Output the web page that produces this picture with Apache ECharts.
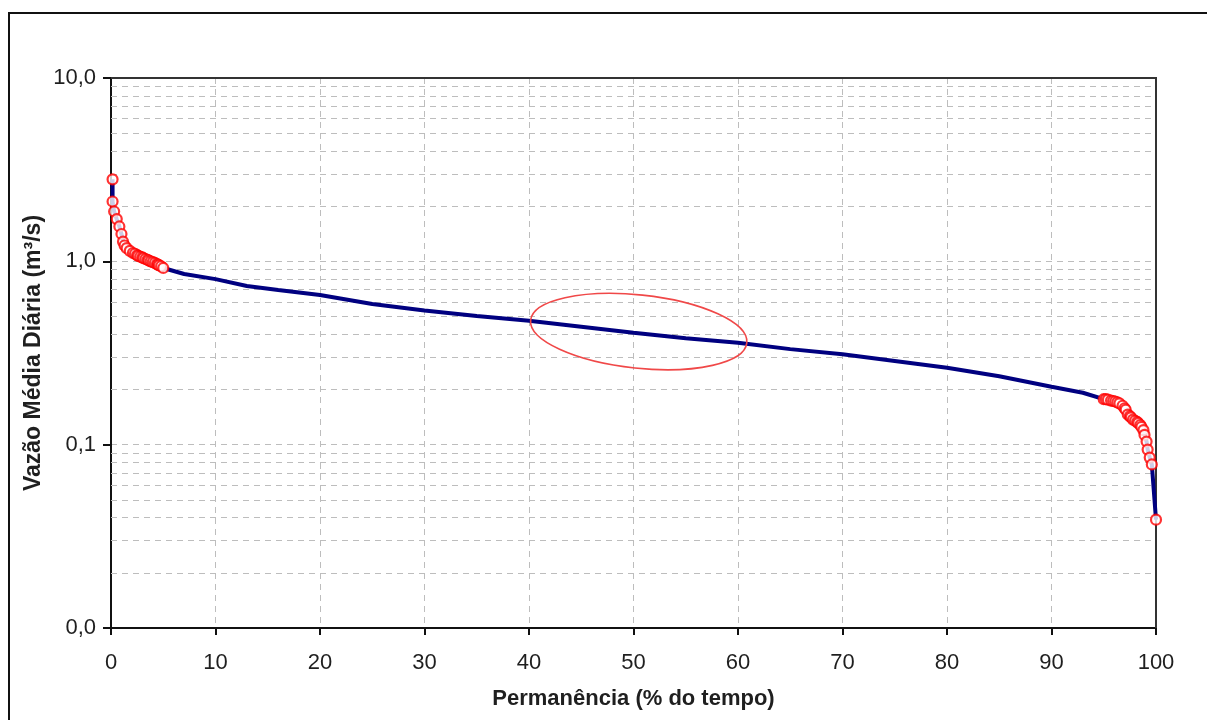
<!DOCTYPE html>
<html>
<head>
<meta charset="utf-8">
<script src="https://cdn.jsdelivr.net/npm/echarts@6/dist/echarts.min.js"></script>
<style>
html,body{margin:0;padding:0;background:#fff;}
#chart{width:1207px;height:720px;}
</style>
</head>
<body>
<div id="chart"></div>
<script>
// ---- data ----
// Head of the curve (red markers)
var headPct  = [0.15, 0.15, 0.3, 0.55, 0.8, 1.0, 1.15, 1.3, 1.5, 1.8, 2.1, 2.3, 2.5, 2.6, 2.8, 3.0, 3.1, 3.3, 3.5, 3.6, 3.8, 4.0, 4.2, 4.4, 4.5, 4.6, 4.8, 5.0];
var headFlow = [2.80, 2.12, 1.87, 1.70, 1.55, 1.41, 1.28, 1.22, 1.18, 1.14, 1.11, 1.10, 1.08, 1.07, 1.06, 1.05, 1.04, 1.03, 1.02, 1.01, 1.00, 0.99, 0.98, 0.965, 0.96, 0.95, 0.94, 0.92];
// Body of the curve (blue line only)
var midPct   = [7, 10, 13, 16, 20, 25, 30, 35, 40, 45, 50, 55, 60, 65, 70, 75, 80, 85, 90, 93];
var midFlow  = [0.853, 0.80, 0.733, 0.698, 0.655, 0.585, 0.54, 0.503, 0.474, 0.44, 0.408, 0.381, 0.36, 0.332, 0.311, 0.286, 0.263, 0.236, 0.207, 0.192];
// Tail of the curve (red markers)
var tailPct  = [95.0, 95.2, 95.4, 95.7, 95.9, 96.1, 96.3, 96.5, 96.8, 97.0, 97.1, 97.3, 97.5, 97.6, 97.8, 98.0, 98.2, 98.3, 98.5, 98.6, 98.8, 98.9, 99.1, 99.2, 99.4, 99.6, 100];
var tailFlow = [0.177, 0.177, 0.176, 0.174, 0.173, 0.172, 0.170, 0.168, 0.163, 0.158, 0.155, 0.146, 0.143, 0.141, 0.137, 0.135, 0.133, 0.131, 0.128, 0.125, 0.120, 0.113, 0.104, 0.094, 0.085, 0.078, 0.039];

// axes
var xTicks = [0, 10, 20, 30, 40, 50, 60, 70, 80, 90, 100];
var yDecades = [0.01, 0.1, 1, 10];
var minorMultipliers = [2, 3, 4, 5, 6, 7, 8, 9];

// annotation ellipse (in data units)
var ellipseCenter = [50.5, 0.414];
var ellipseHalfWidthPct = 10.4;
var ellipseHalfHeightDecades = 0.2;
var ellipseTiltDeg = 6;

var xTitle = 'Permanência (% do tempo)';
var yTitle = 'Vazão Média Diária (m³/s)';

// ---- build ----
function pairs(xs, ys){ var r=[]; for (var i=0;i<xs.length;i++) r.push([xs[i], ys[i]]); return r; }
var allLine = pairs(headPct, headFlow).concat(pairs(midPct, midFlow)).concat(pairs(tailPct, tailFlow));
var markerPts = pairs(headPct, headFlow).concat(pairs(tailPct, tailFlow));

var minorLines = [];
for (var d=0; d<yDecades.length-1; d++) {
  for (var m=0; m<minorMultipliers.length; m++) {
    minorLines.push({yAxis: +(yDecades[d]*minorMultipliers[m]).toPrecision(3)});
  }
}

var FONT = '"Liberation Sans", Arial, sans-serif';
var TXT = '#1f1f1f';
var GRID_LINE = {color:'#bdbdbd', width:1, type:[6,5]};

var chart = echarts.init(document.getElementById('chart'), null, {renderer:'canvas'});
var option = {
  animation:false,
  backgroundColor:'#fff',
  grid:{left:111, right:51, top:78, bottom:92, show:false},
  xAxis:{
    type:'value', min:0, max:100, interval:10,
    name:xTitle, nameLocation:'middle', nameGap:60,
    nameTextStyle:{fontFamily:FONT, fontSize:22, fontWeight:'bold', color:TXT},
    axisLine:{show:true, onZero:false, lineStyle:{color:'#111', width:2}},
    axisTick:{show:true, inside:false, length:7, lineStyle:{color:'#111', width:2}},
    axisLabel:{fontFamily:FONT, fontSize:22, color:TXT, margin:24},
    splitLine:{show:true, showMinLine:false, showMaxLine:false, lineStyle:GRID_LINE}
  },
  yAxis:{
    type:'log', logBase:10, min:0.01, max:10,
    name:yTitle, nameLocation:'middle', nameGap:66, nameMoveOverlap:false,
    nameTextStyle:{fontFamily:FONT, fontSize:23, fontWeight:'bold', color:TXT},
    axisLine:{show:true, lineStyle:{color:'#111', width:2}},
    axisTick:{show:true, inside:false, length:8, lineStyle:{color:'#111', width:2}},
    axisLabel:{fontFamily:FONT, fontSize:22, color:TXT, margin:15,
      formatter:function(v){ return (Math.round(v*10)/10).toFixed(1).replace('.', ','); }},
    splitLine:{show:true, showMinLine:false, showMaxLine:false, lineStyle:GRID_LINE}
  },
  series:[
    {
      type:'line', data:[], silent:true, z:1,
      markLine:{silent:true, z:1, symbol:['none','none'], label:{show:false},
        lineStyle:GRID_LINE, emphasis:{disabled:true}, data:minorLines}
    },
    {
      type:'line', data:allLine, showSymbol:false, z:3,
      lineStyle:{color:'#000080', width:4}, itemStyle:{color:'#000080'}
    },
    {
      type:'scatter', data:markerPts, z:4, symbol:'circle', symbolSize:10,
      itemStyle:{color:'#ffffff', borderColor:'#ff0000', borderWidth:2.2}
    }
  ]
};
chart.setOption(option);

var c = chart.convertToPixel({gridIndex:0}, ellipseCenter);
var cr = chart.convertToPixel({gridIndex:0}, [ellipseCenter[0]+ellipseHalfWidthPct, ellipseCenter[1]]);
var ct = chart.convertToPixel({gridIndex:0}, [ellipseCenter[0], ellipseCenter[1]*Math.pow(10, ellipseHalfHeightDecades)]);
var p0 = chart.convertToPixel({gridIndex:0}, [0, 10]);
var p1 = chart.convertToPixel({gridIndex:0}, [100, 0.01]);
chart.setOption({
  graphic:[
    {type:'rect', x:9, y:13, shape:{x:0, y:0, width:1300, height:800},
     style:{fill:'none', stroke:'#111', lineWidth:2}, z:100, silent:true},
    {type:'polyline', shape:{points:[[p0[0], p0[1]], [p1[0], p0[1]], [p1[0], p1[1]]]},
     style:{fill:'none', stroke:'#333', lineWidth:2}, z:2, silent:true},
    {type:'ellipse', x:c[0], y:c[1], rotation:-ellipseTiltDeg*Math.PI/180,
     shape:{cx:0, cy:0, rx:cr[0]-c[0], ry:c[1]-ct[1]},
     style:{fill:'none', stroke:'#f04848', lineWidth:1.6}, z:100, silent:true}
  ]
});
</script>
</body>
</html>
